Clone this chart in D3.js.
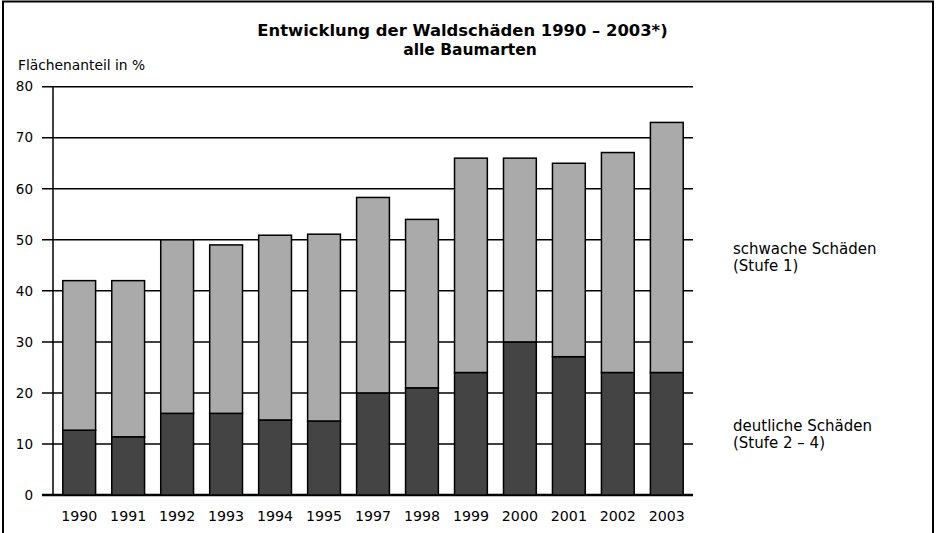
<!DOCTYPE html>
<html><head><meta charset="utf-8">
<script src="https://cdn.jsdelivr.net/npm/d3@7"></script>
<style>body{margin:0;background:#fff}svg{display:block;font-family:"DejaVu Sans",sans-serif}</style>
</head><body>
<svg id="c" width="937" height="533"></svg>
<script>
const years = ["1990","1991","1992","1993","1994","1995","1997","1998","1999","2000","2001","2002","2003"];
const totalValues = [42, 42, 50, 49, 50.9, 51.1, 58.3, 54, 66, 66, 65, 67.1, 73];
const strongValues = [12.7, 11.4, 16, 16, 14.7, 14.5, 20, 21, 24, 30, 27.1, 24, 24];
const weakValues = totalValues.map((t, i) => +(t - strongValues[i]).toFixed(1));
const yTicks = [0, 10, 20, 30, 40, 50, 60, 70, 80];
const seriesNames = ["deutliche Schäden", "schwache Schäden"];
const seriesSub = ["(Stufe 2 – 4)", "(Stufe 1)"];
const colors = ["#444444", "#aaaaaa"];

const svg = d3.select("#c");
const x0 = 53, x1 = 693, yTop = 86.7, yBot = 495;
const x = d3.scaleBand().domain(years).range([x0, x1]).paddingInner(0.33).paddingOuter(0.2);
const y = d3.scaleLinear().domain([0, 80]).range([yBot, yTop]);

// frame
svg.append("rect").attr("x", 3).attr("y", 1.5).attr("width", 930).attr("height", 560)
  .attr("fill", "none").attr("stroke", "#000").attr("stroke-width", 2);

// gridlines
svg.append("g").selectAll("line").data(yTicks).join("line")
  .attr("x1", 42).attr("x2", x1).attr("y1", d => y(d)).attr("y2", d => y(d))
  .attr("stroke", "#000").attr("stroke-width", d => d === 0 ? 2.5 : 1.5);

// y axis line
svg.append("line").attr("x1", x0).attr("x2", x0).attr("y1", y(80)).attr("y2", y(0))
  .attr("stroke", "#000").attr("stroke-width", 1.5);

// y tick labels
svg.append("g").selectAll("text").data(yTicks).join("text")
  .attr("x", 33).attr("y", d => y(d)).attr("dy", "0.35em").attr("text-anchor", "end")
  .attr("font-size", 13.5).text(d => d);

// stacked bars
const stackData = years.map((yr, i) => ({year: yr, s: strongValues[i], w: weakValues[i]}));
const stack = d3.stack().keys(["s", "w"])(stackData);
svg.append("g").selectAll("g").data(stack).join("g")
  .attr("fill", (d, i) => colors[i])
  .selectAll("rect").data(d => d).join("rect")
  .attr("x", d => x(d.data.year)).attr("width", x.bandwidth())
  .attr("y", d => y(d[1])).attr("height", d => y(d[0]) - y(d[1]))
  .attr("stroke", "#000").attr("stroke-width", 1.5);

// x labels
svg.append("g").selectAll("text").data(years).join("text")
  .attr("x", d => x(d) + x.bandwidth() / 2).attr("y", 521).attr("text-anchor", "middle")
  .attr("font-size", 14.2).text(d => d);

// titles
svg.append("text").attr("x", 462.5).attr("y", 36.3).attr("text-anchor", "middle")
  .attr("font-size", 16.4).attr("font-weight", "bold").text("Entwicklung der Waldschäden 1990 – 2003*)");
svg.append("text").attr("x", 470).attr("y", 55).attr("text-anchor", "middle")
  .attr("font-size", 15.5).attr("font-weight", "bold").text("alle Baumarten");
svg.append("text").attr("x", 18).attr("y", 70).attr("font-size", 13.8).text("Flächenanteil in %");

// legend labels
const legY = [430.5, 253.5];
seriesNames.forEach((n, i) => {
  svg.append("text").attr("x", 733).attr("y", legY[i]).attr("font-size", 15).text(n);
  svg.append("text").attr("x", 733).attr("y", legY[i] + 17.6).attr("font-size", 15).text(seriesSub[i]);
});
</script>
</body></html>
